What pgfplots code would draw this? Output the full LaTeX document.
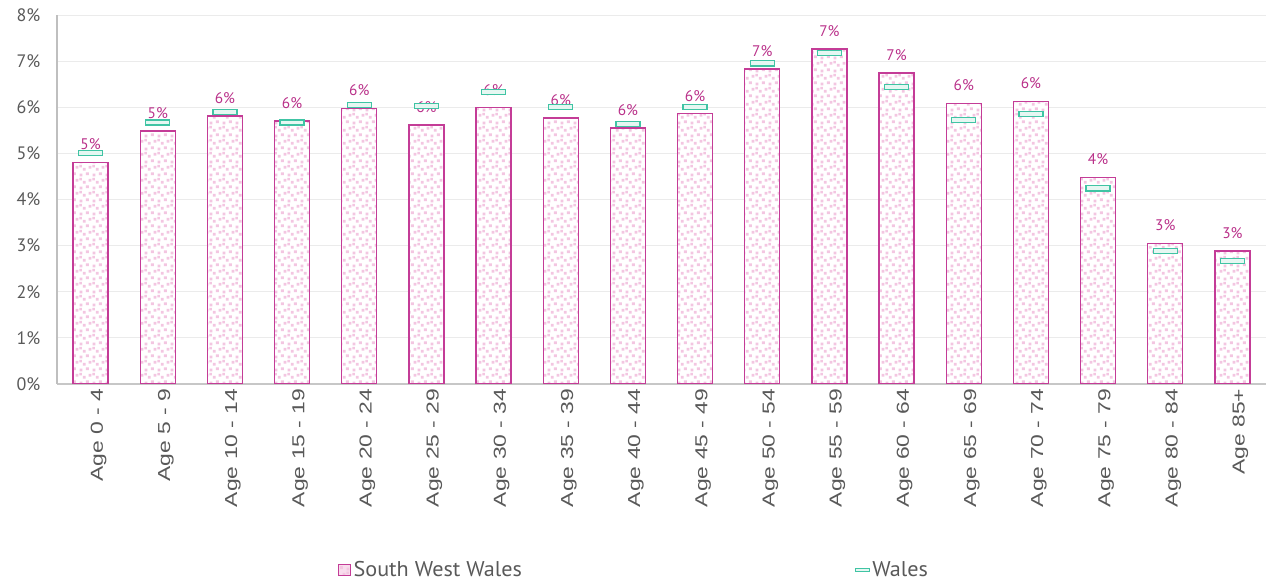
\documentclass[border=0pt]{standalone}
\usepackage{pgfplots}
\pgfplotsset{compat=1.18}
\usepackage{fontspec}
\setmainfont{PT Sans}
\newfontfamily\xfont[FakeStretch=1.32]{Liberation Sans}
\newfontfamily\legfont[FakeStretch=1.04]{PT Sans}
\usetikzlibrary{patterns}
\definecolor{barline}{HTML}{C43C97}
\definecolor{lblcol}{HTML}{B93089}
\definecolor{walesline}{HTML}{40C4A4}
\definecolor{walesfill}{HTML}{E6F7F2}
\definecolor{sqpink}{HTML}{F3C6E1}
\definecolor{tickgray}{HTML}{595959}
\pgfdeclarepatternformonly{pinksq}{\pgfpoint{0pt}{0pt}}{\pgfpoint{10pt}{10pt}}{\pgfpoint{10pt}{10pt}}{%
  \pgfpathrectangle{\pgfpoint{0.5pt}{0.5pt}}{\pgfpoint{2.2pt}{2.2pt}}%
  \pgfpathrectangle{\pgfpoint{5.5pt}{1.5pt}}{\pgfpoint{2.2pt}{2.2pt}}%
  \pgfpathrectangle{\pgfpoint{3pt}{5pt}}{\pgfpoint{2.2pt}{2.2pt}}%
  \pgfpathrectangle{\pgfpoint{7.5pt}{6.5pt}}{\pgfpoint{2.2pt}{2.2pt}}%
  \pgfpathrectangle{\pgfpoint{0.2pt}{7.6pt}}{\pgfpoint{2.0pt}{2.0pt}}%
  \pgfusepath{fill}}
\pgfdeclareplotmark{walesbar}{%
  \pgfpathrectangle{\pgfpoint{-9pt}{-1.9pt}}{\pgfpoint{18pt}{3.8pt}}%
  \pgfusepathqfillstroke}
\begin{document}
\begin{tikzpicture}
\useasboundingbox (0,0) rectangle (949.5pt,438pt);
\begin{axis}[
  at={(42.75pt,150pt)}, anchor=south west,
  scale only axis, width=906.75pt, height=276.75pt,
  xmin=-0.5, xmax=17.5, ymin=0, ymax=8,
  ytick={0,1,...,8},
  yticklabel={\pgfmathprintnumber{\tick}\%},
  /pgf/number format/assume math mode=true,
  xtick={0,...,17},
  xticklabels={Age 0 - 4,Age 5 - 9,Age 10 - 14,Age 15 - 19,Age 20 - 24,Age 25 - 29,Age 30 - 34,Age 35 - 39,Age 40 - 44,Age 45 - 49,Age 50 - 54,Age 55 - 59,Age 60 - 64,Age 65 - 69,Age 70 - 74,Age 75 - 79,Age 80 - 84,Age 85+},
  xticklabel style={rotate=90, anchor=east, font=\xfont\fontsize{13}{16}\selectfont, text=tickgray, yshift=-6pt},
  yticklabel style={font=\fontsize{13.5}{16}\selectfont, text=tickgray, xshift=-9pt},
  major tick length=0pt,
  axis x line*=bottom, axis y line*=left,
  x axis line style={draw=black!22, line width=0.8pt, -},
  y axis line style={draw=black!25, line width=0.8pt, -},
  ymajorgrids, grid style={draw=black!8, line width=0.6pt},
  legend style={at={(0.2324,-0.504)}, anchor=west, draw=none, fill=none, inner sep=0pt,
    font=\legfont\fontsize{16}{18}\selectfont, text=tickgray, legend columns=2,
    /tikz/every even column/.append style={column sep=248pt}},
  legend cell align=left,
]
\addplot[ybar, bar width=26.25pt, draw=barline, line width=1.1pt, fill=white,
  postaction={pattern=pinksq, pattern color=sqpink},
  legend image code/.code={\draw[draw=barline, line width=0.9pt, fill=sqpink!60] (0pt,-4.3pt) rectangle (8.6pt,4.3pt);},
  nodes near coords={\pgfmathprintnumber[fixed,precision=0]{\pgfplotspointmeta}\%},
  every node near coord/.append style={anchor=base, yshift=9.5pt, inner sep=0pt, text=lblcol, font=\fontsize{11.5}{13}\selectfont, /pgf/number format/assume math mode=true}
] coordinates {
(0,4.80) (1,5.49) (2,5.81) (3,5.70) (4,5.97) (5,5.62) (6,5.99) (7,5.77) (8,5.55)
(9,5.86) (10,6.83) (11,7.26) (12,6.74) (13,6.08) (14,6.13) (15,4.48) (16,3.05) (17,2.88)
};
\addlegendentry{South West Wales}
\addplot[only marks, mark=walesbar, mark options={draw=walesline, fill=walesfill, line width=0.9pt},
  legend image code/.code={\draw[draw=walesline, fill=walesfill, line width=0.9pt] (0pt,-1.2pt) rectangle (10pt,1.2pt);}
] coordinates {
(0,5.01) (1,5.67) (2,5.89) (3,5.67) (4,6.05) (5,6.03) (6,6.33) (7,6.01) (8,5.64)
(9,6.01) (10,6.95) (11,7.18) (12,6.44) (13,5.73) (14,5.85) (15,4.24) (16,2.88) (17,2.67)
};
\addlegendentry{Wales}
\end{axis}
\end{tikzpicture}
\end{document}
